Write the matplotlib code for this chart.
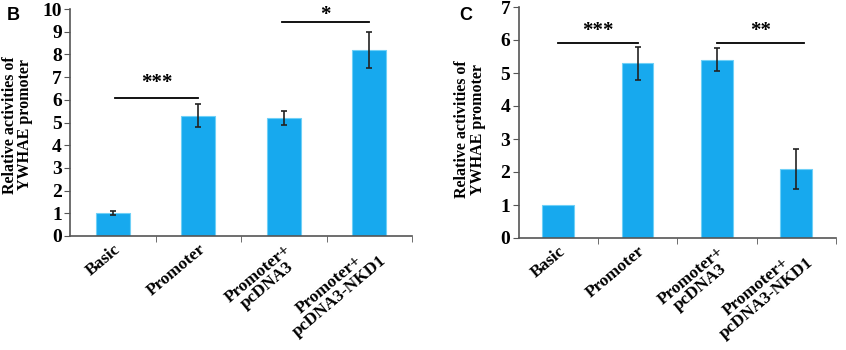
import numpy as np
import matplotlib.pyplot as plt
import matplotlib.transforms as mtransforms

categories = ["Basic", "Promoter", "Promoter+\npcDNA3", "Promoter+\npcDNA3-NKD1"]

# panel B
values_b = [1.0, 5.3, 5.2, 8.2]
errors_b = [0.1, 0.5, 0.3, 0.8]
# panel C
values_c = [1.0, 5.3, 5.4, 2.1]
errors_c = [0.0, 0.5, 0.35, 0.6]

bar_color = "#17a9ee"
serif = "Liberation Serif"


def draw_panel(fig, ax, values, errors, ymax, sig_pairs, label_xy):
    x = np.arange(len(categories))
    ax.bar(x, values, width=0.4, color=bar_color, edgecolor="#6fd0f7",
           linewidth=0.8, zorder=2)
    err = np.array(errors)
    has_err = err > 0
    ax.errorbar(x[has_err], np.array(values)[has_err], yerr=err[has_err],
                fmt="none", ecolor="#222222", elinewidth=1.2, capsize=2,
                capthick=1.2, zorder=3)
    # significance bars: (start, end, line height, star height, stars)
    for (x0, x1, y, ys, stars) in sig_pairs:
        ax.plot([x0, x1], [y, y], color="black", lw=1.3, clip_on=False)
        ax.text((x0 + x1) / 2, ys, stars, ha="center", va="center",
                fontsize=15, fontweight="bold", family=serif)
    ax.set_xlim(-0.5, 3.5)
    ax.set_ylim(0, ymax)
    ax.set_yticks(range(0, ymax + 1))
    ax.set_yticklabels([str(v) for v in range(0, ymax + 1)],
                       fontsize=14, fontweight="bold", family=serif)
    ax.set_xticks(x)
    ax.set_xticklabels(categories, rotation=40, ha="right",
                       rotation_mode="anchor", fontsize=12.5,
                       fontweight="bold", family=serif,
                       multialignment="center", linespacing=0.9)
    shift = mtransforms.ScaledTranslation(13 / 100, 0, fig.dpi_scale_trans)
    for lbl in ax.get_xticklabels():
        lbl.set_transform(lbl.get_transform() + shift)
    ax.tick_params(axis="x", length=0, pad=4)
    ax.set_xticks(np.arange(0.5, 4.0, 1.0), minor=True)
    ax.tick_params(axis="x", which="minor", length=4, color="#555555")
    ax.tick_params(axis="y", length=4, color="#555555", pad=2)
    for s in ["top", "right"]:
        ax.spines[s].set_visible(False)
    for s in ["left", "bottom"]:
        ax.spines[s].set_color("#555555")
        ax.spines[s].set_linewidth(1.2)
    ax.set_ylabel("Relative activities of\nYWHAE promoter", fontsize=11.5,
                  fontweight="bold", family=serif, linespacing=0.95)
    ax.yaxis.set_label_coords(*label_xy)


fig = plt.figure(figsize=(8.46, 3.5), dpi=100)
ax_b = fig.add_axes([0.083, 0.326, 0.404, 0.648])
ax_c = fig.add_axes([0.613, 0.32, 0.375, 0.66])

draw_panel(fig, ax_b, values_b, errors_b, 10,
           [(0.02, 1.0, 6.1, 6.75, "***"), (1.98, 3.0, 9.45, 9.75, "*")],
           (-0.108, 0.49))
draw_panel(fig, ax_c, values_c, errors_c, 7,
           [(0.0, 1.0, 5.92, 6.28, "***"), (2.0, 3.1, 5.92, 6.28, "**")],
           (-0.104, 0.47))

fig.text(0.008, 0.955, "B", fontsize=13, fontweight="bold",
         family="Liberation Sans", va="center")
fig.text(0.543, 0.955, "C", fontsize=13, fontweight="bold",
         family="Liberation Sans", va="center")

fig.savefig("out.png", dpi=100)
